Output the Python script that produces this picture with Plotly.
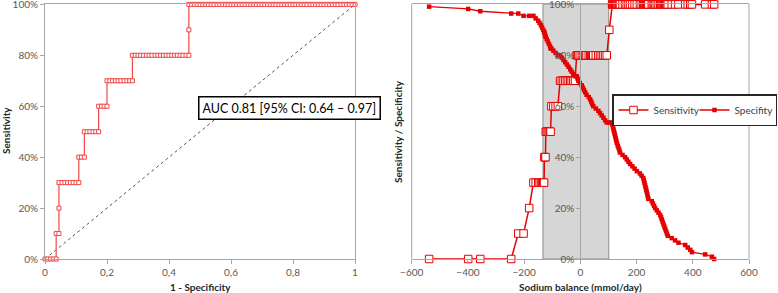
import plotly.graph_objects as go

# Sodium balance thresholds (mmol/day)
thresholds = [-538, -399, -356, -246, -221, -202, -182, -167, -159, -150,
              -145, -140, -136, -132, -129, -128, -126, -124, -123, -120,
              -116, -112, -108, -106, -103, -96, -88, -80, -72, -66,
              -60, -54, -48, -42, -36, -31, -25, -19, -13, -10,
              -7, -2, 5, 9, 13, 17, 22, 30, 35, 39,
              42, 46, 55, 64, 70, 76, 82, 88, 94, 103,
              113, 114, 116, 118, 120, 122, 124, 126, 128, 130,
              133, 136, 139, 141, 150, 159, 165, 171, 177, 185,
              193, 201, 212, 218, 224, 226, 228, 230, 232, 234,
              236, 238, 240, 242, 254, 258, 262, 266, 272, 278,
              284, 287, 290, 293, 296, 299, 302, 305, 308, 311,
              325, 337, 349, 373, 382, 391, 397, 444, 468, 476]

# Sensitivity (%) at each threshold
sensitivity = [0, 0, 0, 0, 10, 10, 20, 30, 30, 30,
               30, 30, 30, 30, 30, 40, 40, 40, 50, 50,
               50, 50, 50, 50, 60, 60, 60, 60, 70, 70,
               70, 70, 70, 70, 70, 70, 70, 70, 80, 80,
               80, 80, 80, 80, 80, 80, 80, 80, 80, 80,
               80, 80, 80, 80, 80, 80, 80, 80, 80, 90,
               100, 100, 100, 100, 100, 100, 100, 100, 100, 100,
               100, 100, 100, 100, 100, 100, 100, 100, 100, 100,
               100, 100, 100, 100, 100, 100, 100, 100, 100, 100,
               100, 100, 100, 100, 100, 100, 100, 100, 100, 100,
               100, 100, 100, 100, 100, 100, 100, 100, 100, 100,
               100, 100, 100, 100, 100, 100, 100, 100, 100, 100]

# Specificity (%) at each threshold
specificity = [99.1, 98.2, 97.3, 96.4, 96.4, 95.5, 95.5, 95.5, 94.5, 93.6,
               92.7, 91.8, 90.9, 90.0, 89.1, 89.1, 88.2, 87.3, 87.3, 86.4,
               85.5, 84.5, 83.6, 82.7, 82.7, 81.8, 80.9, 80.0, 80.0, 79.1,
               78.2, 77.3, 76.4, 75.5, 74.5, 73.6, 72.7, 71.8, 71.8, 70.9,
               70.0, 69.1, 68.2, 67.3, 66.4, 65.5, 64.5, 63.6, 62.7, 61.8,
               60.9, 60.0, 59.1, 58.2, 57.3, 56.4, 55.5, 54.5, 53.6, 53.6,
               53.6, 52.7, 51.8, 50.9, 50.0, 49.1, 48.2, 47.3, 46.4, 45.5,
               44.5, 43.6, 42.7, 41.8, 40.9, 40.0, 39.1, 38.2, 37.3, 36.4,
               35.5, 34.5, 33.6, 32.7, 31.8, 30.9, 30.0, 29.1, 28.2, 27.3,
               26.4, 25.5, 24.5, 23.6, 22.7, 21.8, 20.9, 20.0, 19.1, 18.2,
               17.3, 16.4, 15.5, 14.5, 13.6, 12.7, 11.8, 10.9, 10.0, 9.1,
               8.2, 7.3, 6.4, 5.5, 4.5, 3.6, 2.7, 1.8, 0.9, 0.0]

# ROC curve: starts at the origin, then (1 - specificity, sensitivity) per threshold
roc_x = [0.0] + [round(1 - s / 100, 4) for s in specificity]
roc_y = [0.0] + [v / 100 for v in sensitivity]

x_ticks_left = [0, 0.2, 0.4, 0.6, 0.8, 1]
x_ticklabels_left = ["0", "0,2", "0,4", "0,6", "0,8", "1"]
y_ticks = [0, 0.2, 0.4, 0.6, 0.8, 1]
y_ticklabels = ["0%", "20%", "40%", "60%", "80%", "100%"]
gray_zone = [-133, 101]
auc_text = "AUC 0.81 [95% CI: 0.64 \u2013 0.97]"

W, H = 778, 293
FONT = "Lato"
AX = "#a6a6a6"
TICKC = "#595959"
ROC_RED = "#f04848"
RED = "#e60000"

def px_x(p):
    return p / W

def px_y(p):
    return 1 - p / H

fig = go.Figure()

# diagonal reference
fig.add_trace(go.Scatter(x=[0, 1], y=[0, 1], mode="lines",
                         line=dict(color="#555555", width=1, dash="dot"),
                         xaxis="x", yaxis="y", showlegend=False, hoverinfo="skip"))
# ROC
fig.add_trace(go.Scatter(x=roc_x, y=roc_y, mode="lines+markers",
                         line=dict(color=ROC_RED, width=1.2, shape="linear"),
                         marker=dict(symbol="square", size=4, color="white",
                                     line=dict(color=ROC_RED, width=1)),
                         xaxis="x", yaxis="y", showlegend=False, cliponaxis=False))

# Right chart
yv_sens = [v / 100 for v in sensitivity]
yv_spec = [v / 100 for v in specificity]
fig.add_trace(go.Scatter(x=thresholds, y=yv_sens, mode="lines+markers", name="Sensitivity",
                         line=dict(color=RED, width=1.5),
                         marker=dict(symbol="square", size=7.5, color="white",
                                     line=dict(color=RED, width=1)),
                         xaxis="x2", yaxis="y2", cliponaxis=False))
fig.add_trace(go.Scatter(x=thresholds, y=yv_spec, mode="lines+markers", name="Specifity",
                         line=dict(color=RED, width=1.3),
                         marker=dict(symbol="square", size=4.5, color=RED),
                         xaxis="x2", yaxis="y2", cliponaxis=False))

ydom = [px_y(259), px_y(4)]
tickfont = dict(family=FONT, size=10, color=TICKC)
yrange = [0, 1.0015]
common = dict(showline=True, linecolor=AX, linewidth=1, ticks="outside", ticklen=4,
              tickcolor=AX, showgrid=False, zeroline=False, tickfont=tickfont,
              ticklabeloverflow="allow")

fig.update_layout(
    width=W, height=H,
    margin=dict(l=0, r=0, t=0, b=0, autoexpand=False),
    paper_bgcolor="white", plot_bgcolor="white",
    font=dict(family=FONT, size=10, color="#262626"),
    xaxis=dict(domain=[px_x(45), px_x(355)], range=[0, 1], anchor="y",
               tickvals=x_ticks_left, ticktext=x_ticklabels_left, mirror=True, **common),
    yaxis=dict(domain=ydom, range=yrange, anchor="x",
               tickvals=y_ticks, ticktext=y_ticklabels, mirror=True, **common),
    xaxis2=dict(domain=[px_x(411.7), px_x(749)], range=[-600, 600], anchor="y2",
                tickvals=[-600, -400, -200, 0, 200, 400, 600], mirror=True, **common),
    yaxis2=dict(domain=ydom, range=yrange, anchor="free", position=px_x(580.3),
                tickvals=y_ticks, ticktext=y_ticklabels, **common),
    legend=dict(orientation="h", x=px_x(777), y=px_y(94), xanchor="right", yanchor="top",
                bordercolor="#262626", borderwidth=1.5, bgcolor="white",
                font=dict(family=FONT, size=10, color="#404040"),
                itemwidth=30, entrywidth=36, tracegroupgap=0),
    shapes=[
        dict(type="rect", xref="x2", yref="y2 domain", x0=gray_zone[0], x1=gray_zone[1],
             y0=0, y1=1, fillcolor="#d6d6d6", line=dict(color="#8c8c8c", width=1),
             layer="below"),
        dict(type="line", xref="x2 domain", yref="y2 domain", x0=0, x1=0, y0=0, y1=1,
             line=dict(color=AX, width=1), layer="below"),
        dict(type="line", xref="x2 domain", yref="y2 domain", x0=1, x1=1, y0=0, y1=1,
             line=dict(color=AX, width=1), layer="below"),
    ],
    annotations=[
        dict(text=auc_text, xref="paper", yref="paper", x=px_x(289.5), y=px_y(108),
             xanchor="center", yanchor="middle", showarrow=False,
             font=dict(family=FONT, size=12.5, color="#000000"),
             bgcolor="white", bordercolor="#000000", borderwidth=1.5, borderpad=3),
        dict(text="<b>1 - Specificity</b>", xref="paper", yref="paper",
             x=px_x(200), y=px_y(287), xanchor="center", yanchor="middle",
             showarrow=False, font=dict(family=FONT, size=10, color="#262626")),
        dict(text="<b>Sodium balance (mmol/day)</b>", xref="paper", yref="paper",
             x=px_x(580), y=px_y(287), xanchor="center", yanchor="middle",
             showarrow=False, font=dict(family=FONT, size=10, color="#262626")),
        dict(text="<b>Sensitivity</b>", xref="paper", yref="paper",
             x=px_x(6), y=px_y(131), xanchor="center", yanchor="middle", textangle=-90,
             showarrow=False, font=dict(family=FONT, size=10, color="#262626")),
        dict(text="<b>Sensitivity / Specificity</b>", xref="paper", yref="paper",
             x=px_x(398), y=px_y(131), xanchor="center", yanchor="middle", textangle=-90,
             showarrow=False, font=dict(family=FONT, size=10, color="#262626")),
    ],
)

fig.write_html("out.html", config={"displayModeBar": False},
               post_script="document.body.style.margin='0';")
